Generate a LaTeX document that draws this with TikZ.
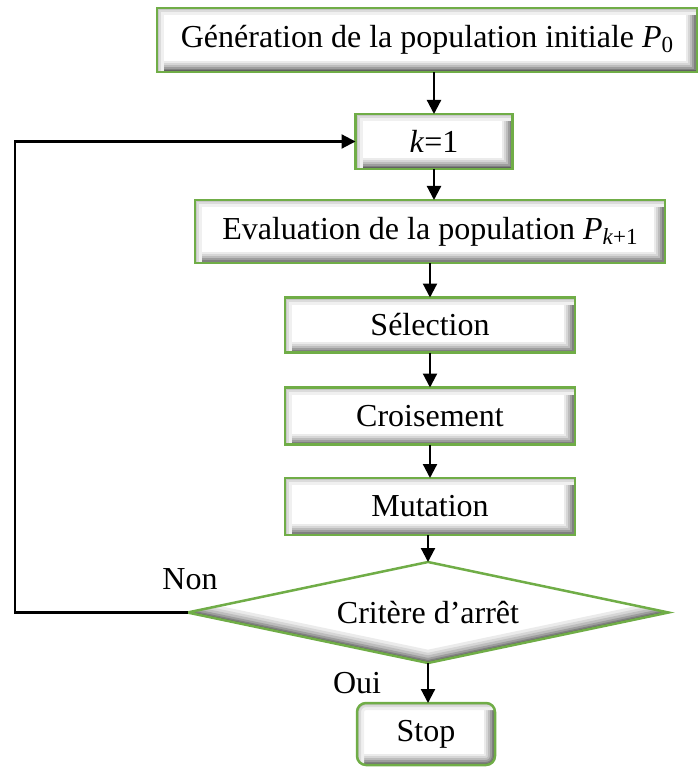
\documentclass[tikz,border=0pt]{standalone}
\usepackage{fontspec}
\setmainfont{Liberation Serif}
\usetikzlibrary{arrows.meta,shapes.geometric}
\definecolor{boxgreen}{RGB}{112,173,71}
\newcommand\mysub[1]{\raisebox{-0.35ex}{\fontsize{23}{25}\selectfont #1}}
\tikzset{
  boxbevel/.style={path picture={
    \foreach \lw/\gc in {22/8,18/16,14/26,10/38,6/50,3/62}{
      \draw[line width=\lw pt, black!\gc] (path picture bounding box.south west) -- (path picture bounding box.south east) -- (path picture bounding box.north east);
    }
    \foreach \lw/\gc in {14/6,8/14,4/22}{
      \draw[line width=\lw pt, black!\gc] (path picture bounding box.south west) -- (path picture bounding box.north west) -- (path picture bounding box.north east);
    }
  }},
  diabevel/.style={path picture={
    \foreach \lw/\gc in {26/8,20/16,15/26,10/38,6/50,3/62}{
      \draw[line width=\lw pt, black!\gc] (path picture bounding box.west) -- (path picture bounding box.south) -- (path picture bounding box.east);
    }
  }},
  stepbox/.style={draw=boxgreen, line width=2.5pt, fill=white, boxbevel, inner sep=0pt, outer sep=0pt,
    font=\fontsize{32}{38}\selectfont},
  decision/.style={diamond, draw=boxgreen, line width=2.5pt, fill=white, diabevel, inner sep=0pt, outer sep=0pt,
    aspect=4.76, font=\fontsize{32}{38}\selectfont},
  lbl/.style={font=\fontsize{32}{38}\selectfont, inner sep=0pt},
  arr/.style={line width=2.2pt, -{Triangle[length=14pt,width=14pt]}},
}
\begin{document}
\begin{tikzpicture}[x=1pt,y=-1pt]
\useasboundingbox (0,0) rectangle (698,767);
\node[stepbox, minimum width=540pt, minimum height=64pt] (gen) at (427,40) {Génération de la population initiale \textit{P}\mysub{0}};
\node[stepbox, minimum width=157pt, minimum height=55pt] (k) at (434,141.5) {\textit{k}=1};
\node[stepbox, minimum width=470pt, minimum height=63pt] (eval) at (430,231.5) {Evaluation de la population \textit{P}\mysub{\textit{k}+1}};
\node[stepbox, minimum width=290pt, minimum height=55pt] (sel) at (430,325) {Sélection};
\node[stepbox, minimum width=290pt, minimum height=57pt] (cro) at (430,416) {Croisement};
\node[stepbox, minimum width=290pt, minimum height=57pt] (mut) at (430,506.5) {Mutation};
\node[decision, minimum width=481pt, minimum height=101pt] (dia) at (428,612.5) {Critère d’arrêt};
\node[stepbox, rounded corners=9pt, minimum width=138pt, minimum height=62pt] (stop) at (426,734) {Stop};
\node[lbl] (non) at (190,579) {Non};
\node[lbl] (oui) at (357,683) {Oui};
\coordinate (lft) at (15,0);

\draw[arr] (k.north |- gen.south) -- (k.north);
\draw[arr] (k.south) -- (k.south |- eval.north);
\draw[arr] (eval.south) -- (sel.north);
\draw[arr] (sel.south) -- (cro.north);
\draw[arr] (cro.south) -- (mut.north);
\draw[arr] (mut.south -| dia.north) -- (dia.north);
\draw[arr] (dia.south) -- (dia.south |- stop.north);
\draw[arr] (dia.west) -| (lft |- k.west) -- (k.west);
\end{tikzpicture}
\end{document}
